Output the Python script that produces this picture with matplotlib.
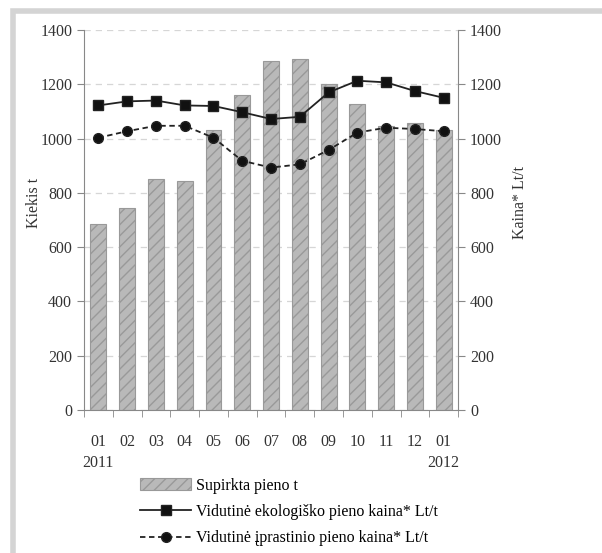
import numpy as np
import matplotlib
matplotlib.use('Agg')
import matplotlib.pyplot as plt
from matplotlib.patches import Rectangle

plt.rcParams['font.family'] = ['Liberation Serif', 'DejaVu Serif']
plt.rcParams['hatch.color'] = '#707070'
plt.rcParams['hatch.linewidth'] = 1.0

months = ['01\n2011', '02', '03', '04', '05', '06', '07', '08', '09', '10', '11', '12', '01\n2012']
supirkta = [685, 743, 850, 843, 1033, 1160, 1287, 1293, 1200, 1128, 1045, 1058, 1030]
eko_kaina = [1122, 1137, 1140, 1122, 1120, 1097, 1072, 1080, 1170, 1213, 1207, 1175, 1150]
iprast_kaina = [1003, 1027, 1047, 1047, 1003, 918, 893, 905, 958, 1022, 1040, 1035, 1027]

fig = plt.figure(figsize=(6.02, 5.53), dpi=100)
# light gray frame around the chart
fig.patches.append(Rectangle((0.022, -0.01), 0.99, 0.99, transform=fig.transFigure,
                             fill=False, edgecolor='#d4d4d4', linewidth=4))

ax = fig.add_axes([0.1395, 0.2586, 0.6215, 0.6872])
x = np.arange(len(months))
ax.bar(x, supirkta, width=0.55, color='#b9b9b9', edgecolor='#999999',
       hatch='///', linewidth=0.8, label='Supirkta pieno t', zorder=2)
ax.set_xlim(-0.5, len(months) - 0.5)
ax.set_ylim(0, 1400)
ax.set_yticks(range(0, 1401, 200))
ax.yaxis.grid(True, linestyle=(0, (5, 4)), color='#d6d6d6', linewidth=0.9)
ax.set_axisbelow(True)
ax.set_xticks(x)
ax.set_xticklabels(months, linespacing=1.45)
ax.set_xticks(np.arange(-0.5, len(months), 1), minor=True)
ax.tick_params(axis='x', which='major', length=0, pad=17, labelsize=11.5, colors='#333333')
ax.tick_params(axis='x', which='minor', length=5, color='#888888')
ax.tick_params(axis='y', length=5, color='#888888', labelsize=11.5, labelcolor='#333333')
for s in ['top', 'right']:
    ax.spines[s].set_visible(False)
for s in ['left', 'bottom']:
    ax.spines[s].set_color('#888888')
ax.set_ylabel('Kiekis t', fontsize=11.5, color='#333333')
ax.yaxis.set_label_coords(-0.113, 0.545)

ax2 = ax.twinx()
ax2.plot(x, eko_kaina, color='#222222', linewidth=1.3, marker='s', markersize=6.5,
         markerfacecolor='#111111', label='Vidutinė ekologiško pieno kaina* Lt/t', zorder=3)
ax2.plot(x, iprast_kaina, color='#222222', linewidth=1.3, linestyle=(0, (3, 2)), marker='o',
         markersize=7, markerfacecolor='#111111', label='Vidutinė įprastinio pieno kaina* Lt/t', zorder=3)
ax2.set_ylim(0, 1400)
ax2.set_yticks(range(0, 1401, 200))
ax2.tick_params(axis='y', length=5, color='#888888', labelsize=11.5, labelcolor='#333333')
for s in ['top', 'left', 'bottom']:
    ax2.spines[s].set_visible(False)
ax2.spines['right'].set_color('#888888')
ax2.set_ylabel('Kaina* Lt/t', fontsize=11.5, color='#333333')
ax2.yaxis.set_label_coords(1.145, 0.545)

h1, l1 = ax.get_legend_handles_labels()
h2, l2 = ax2.get_legend_handles_labels()
fig.legend(h1 + h2, l1 + l2, loc='upper left', bbox_to_anchor=(0.222, 0.148),
           frameon=False, fontsize=11.5, handlelength=3.2, handletextpad=0.3,
           labelspacing=0.65, borderaxespad=0)

fig.savefig('out.png', dpi=100)
